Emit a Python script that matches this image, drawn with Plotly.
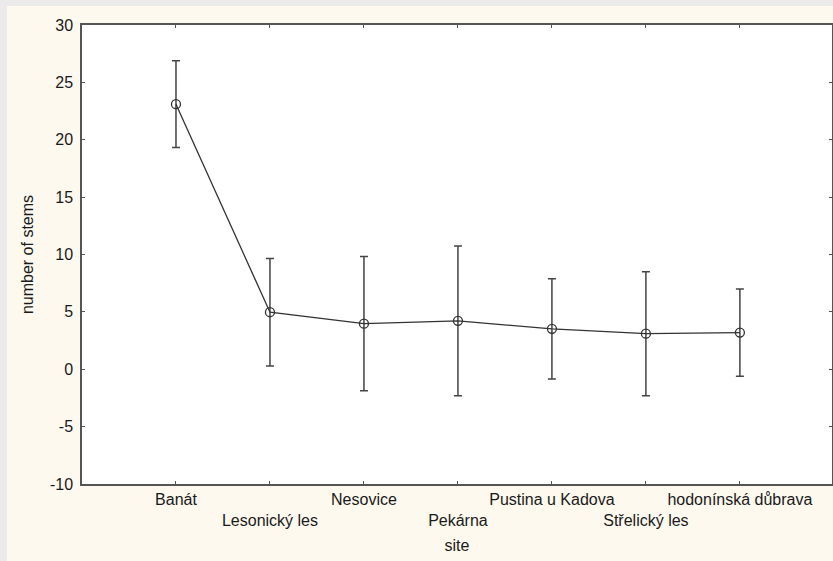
import plotly.graph_objects as go

sites = ["Banát", "Lesonický les", "Nesovice", "Pekárna", "Pustina u Kadova",
         "Střelický les", "hodonínská důbrava"]
means = [23.1, 4.97, 3.97, 4.22, 3.52, 3.1, 3.2]
errors = [3.78, 4.68, 5.85, 6.53, 4.37, 5.4, 3.8]
y_ticks = [-10, -5, 0, 5, 10, 15, 20, 25, 30]
y_tick_text = ["-10", "-5", "0", "5", "10", "15", "20", "25", "30"]

x_pos = list(range(1, len(sites) + 1))
tick_text = [s if i % 2 == 0 else "<br>" + s for i, s in enumerate(sites)]

fig = go.Figure()
fig.add_trace(go.Scatter(
    x=x_pos, y=means, mode="lines+markers",
    line=dict(color="#333333", width=1.3),
    marker=dict(symbol="circle-open", size=9, color="#333333", line=dict(width=1.3)),
    error_y=dict(type="data", array=errors, visible=True, color="#444444",
                 thickness=1.5, width=4),
    showlegend=False,
))

tick_font = dict(family="Liberation Sans, Arial, sans-serif", size=16, color="#1a1a1a")

fig.update_layout(
    width=826, height=555,
    margin=dict(l=75, r=1, t=19, b=77),
    paper_bgcolor="#fdf9ee",
    plot_bgcolor="#ffffff",
    font=tick_font,
    xaxis=dict(
        range=[0, 7.98], tickmode="array", tickvals=x_pos, ticktext=tick_text,
        tickangle=0, automargin=False,
        showgrid=False, zeroline=False, showline=True, linecolor="#555555",
        linewidth=1.5, mirror="allticks", ticks="inside", ticklen=3,
        tickcolor="#555555", tickfont=tick_font,
        title=dict(text="site", font=dict(size=16), standoff=12),
    ),
    yaxis=dict(
        range=[-10, 30], tickmode="array", tickvals=y_ticks, ticktext=y_tick_text,
        automargin=False, ticklabelstandoff=4,
        showgrid=False, zeroline=False, showline=True, linecolor="#555555",
        linewidth=1.5, mirror="allticks", ticks="inside", ticklen=3,
        tickcolor="#555555", tickfont=tick_font,
        title=dict(text="number of stems", font=dict(size=16), standoff=12),
    ),
)

page_style = ("document.body.style.margin='6px 0 0 7px';"
              "document.body.style.background='#ebebeb';"
              "document.body.style.overflow='hidden';")

fig.write_html("out.html", post_script=page_style)
